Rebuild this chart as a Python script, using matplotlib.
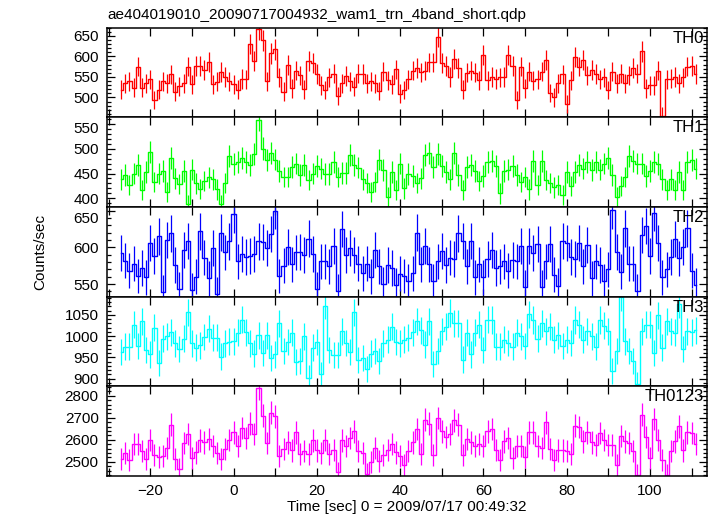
import numpy as np
import matplotlib
matplotlib.use("Agg")
import matplotlib.pyplot as plt
from matplotlib.ticker import MultipleLocator
from matplotlib.transforms import ScaledTranslation

plt.rcParams['font.family'] = ['Liberation Sans', 'DejaVu Sans']

title = "ae404019010_20090717004932_wam1_trn_4band_short.qdp"
xlabel = "Time [sec] 0 = 2009/07/17 00:49:32"
ylabel = "Counts/sec"
band_names = ["TH0", "TH1", "TH2", "TH3", "TH0123"]
band_colors = ["#ff0000", "#00ff00", "#0000ff", "#00ffff", "#ff00ff"]

time_start = -27.0   # centre of the first 1-s bin
bin_width = 1.0

th0 = [519,535,539,524,575,524,534,544,493,519,539,535,556,514,527,534,575,532,576,576,
       567,587,532,538,562,550,539,532,519,545,544,630,589,666,639,539,607,617,549,514,
       579,522,565,554,520,589,583,557,530,518,549,558,503,535,552,539,
       526,558,557,534,539,534,516,563,542,532,568,509,518,544,565,571,561,565,585,585,
       647,583,576,550,593,571,519,560,565,560,542,603,542,550,545,549,550,603,577,493,
       575,522,563,541,544,563,591,511,500,535,556,485,542,598,575,591,554,567,557,544,
       549,518,563,534,558,534,554,571,558,612,522,530,530,565,456,544,546,550,535,549,
       575,576,557]
th1 = [438,447,427,450,467,417,453,493,433,450,455,413,482,440,429,455,388,458,430,419,
       435,442,438,418,388,431,485,469,473,482,473,467,489,558,500,477,491,478,455,443,
       443,463,470,447,467,437,450,465,460,449,449,473,443,451,451,487,467,462,438,431,
       413,433,478,457,402,453,417,
       470,420,449,445,431,440,487,491,463,490,465,453,438,491,447,417,463,467,455,435,
       445,473,475,465,410,455,458,465,447,433,443,418,475,427,475,437,431,422,427,407,
       453,425,453,467,460,473,457,473,458,470,482,447,402,425,443,485,475,470,470,445,
       455,473,469,438,417,438,417,453,417,473,477,460]
th2 = [592,582,568,578,561,572,559,606,588,615,539,610,619,576,543,597,609,542,560,622,
       586,558,599,536,620,593,608,645,581,591,587,588,591,608,607,599,618,650,561,575,
       600,577,593,594,590,612,591,543,581,581,574,602,541,625,590,599,590,578,565,578,
       560,597,574,550,576,572,549,
       564,561,554,565,620,577,602,577,554,581,595,576,586,584,619,609,574,609,559,577,
       559,584,597,572,574,581,568,583,581,602,546,602,592,605,546,581,605,563,548,609,
       606,587,584,606,574,603,558,581,576,554,570,651,594,567,626,578,578,541,617,629,
       588,647,606,559,570,587,611,585,600,626,568,549]
th3 = [962,975,975,1027,977,1035,967,957,1020,937,994,1000,1009,983,970,994,1056,983,973,978,
       998,1017,996,996,952,983,987,988,1008,1039,1009,983,959,1002,961,1002,949,957,1030,965,
       986,1008,939,941,1000,902,973,986,910,1072,967,955,955,1012,984,962,1056,944,949,922,
       959,965,941,983,992,1022,986,
       983,992,996,1009,1035,1014,980,1035,934,965,1012,1022,1055,1030,1030,945,1008,957,1008,1027,
       967,1039,1038,975,975,992,984,975,1008,1000,977,1051,1038,994,1030,1012,1022,992,1002,977,
       992,984,1038,1027,992,1012,1000,975,1038,1025,1012,918,965,1092,988,965,941,887,1012,1027,
       1027,961,1049,973,1035,1012,1008,1075,970,1012,1009,1014]
th0123 = [2512,2539,2509,2580,2580,2550,2512,2600,2532,2521,2527,2562,2669,2512,2466,2585,2627,2516,2542,2597,
          2588,2603,2570,2539,2512,2557,2600,2634,2573,2653,2608,2673,2627,2836,2710,2585,2722,2707,2524,2557,
          2588,2551,2634,2536,2547,2536,2597,2551,2539,2600,2536,2554,2451,2597,2573,2608,2638,2547,2539,2443,
          2497,2562,2501,2532,2554,2582,2542,
          2524,2486,2547,2588,2649,2536,2691,2673,2532,2699,2638,2612,2627,2688,2669,2532,2603,2588,2570,2582,
          2573,2638,2649,2554,2506,2592,2608,2516,2573,2573,2521,2634,2634,2573,2562,2679,2557,2509,2551,2551,
          2547,2536,2664,2658,2592,2634,2588,2577,2630,2600,2577,2577,2486,2618,2592,2585,2547,2440,2714,2612,
          2516,2694,2600,2506,2440,2547,2592,2661,2551,2634,2630,2582]

series = [th0, th1, th2, th3, th0123]
ylims = [(452, 670), (383, 563), (533, 655), (882, 1093), (2435, 2843)]
ymajor = [50, 50, 50, 50, 100]
yminor = [10, 10, 10, 10, 20]
# small downward shift (in points) of the top y tick label, as in the reference
top_label_shift = [0, 3, 5, 0, 0]

W, H = 717, 516
fig = plt.figure(figsize=(W / 100, H / 100), dpi=100)

left_px, right_px = 107, 707
top_px, bot_px = 27.5, 476
ph = (bot_px - top_px) / 5

axes = []
for i, (name, col, vals, yl, mj, mn) in enumerate(zip(band_names, band_colors, series, ylims, ymajor, yminor)):
    ptop = top_px + i * ph
    ax = fig.add_axes([left_px / W, 1 - (ptop + ph) / H, (right_px - left_px) / W, ph / H])
    v = np.asarray(vals, dtype=float)
    t = time_start + bin_width * np.arange(len(v))
    err = np.sqrt(v * bin_width) / bin_width
    ax.errorbar(t, v, yerr=err, fmt='none', ecolor=col, elinewidth=0.9, capsize=0)
    ax.step(t, v, where='mid', color=col, lw=1.0)
    ax.set_xlim(-30.4, 113.7)
    ax.set_ylim(*yl)
    ax.xaxis.set_major_locator(MultipleLocator(20))
    ax.xaxis.set_minor_locator(MultipleLocator(10))
    ax.yaxis.set_major_locator(MultipleLocator(mj))
    ax.yaxis.set_minor_locator(MultipleLocator(mn))
    ax.tick_params(which='both', direction='in', top=True, right=True, labelsize=11, width=0.9)
    ax.tick_params(which='major', length=6, pad=6)
    ax.tick_params(axis='x', which='minor', length=6)
    ax.tick_params(axis='y', which='minor', length=3)
    for s in ax.spines.values():
        s.set_linewidth(1.1)
    if i < 4:
        ax.tick_params(labelbottom=False)
    ax.text(0.995, 0.965, name, transform=ax.transAxes, ha='right', va='top', fontsize=12)
    axes.append(ax)

fig.canvas.draw()
for ax, shift in zip(axes, top_label_shift):
    if shift:
        lo, hi = ax.get_ylim()
        ticks = [tk for tk in ax.yaxis.get_major_ticks() if lo <= tk.get_loc() <= hi]
        top_tick = max(ticks, key=lambda tk: tk.get_loc())
        lbl = top_tick.label1
        lbl.set_transform(lbl.get_transform() + ScaledTranslation(0, -shift / 72, fig.dpi_scale_trans))

fig.text(left_px / W, 1 - 15 / H, title, ha='left', va='center', fontsize=11)
fig.text(40 / W, 1 - 252 / H, ylabel, rotation=90, ha='center', va='center', fontsize=11)
fig.text((left_px + right_px) / 2 / W, 1 - 507 / H, xlabel, ha='center', va='center', fontsize=11)

fig.savefig("out.png", dpi=100)
